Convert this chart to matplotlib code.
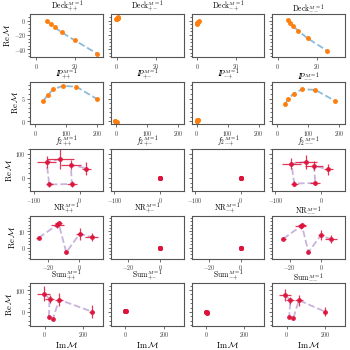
import matplotlib
matplotlib.use("Agg")
import matplotlib.pyplot as plt
from matplotlib.ticker import MultipleLocator, AutoMinorLocator

plt.rcParams['font.family'] = 'serif'
plt.rcParams['font.serif'] = ['cmr10']
plt.rcParams['mathtext.fontset'] = 'cm'
plt.rcParams['axes.formatter.use_mathtext'] = True

# amplitudes : Im and Re parts for each wave and helicity combination
deck_pp_im = [5.7, 7.4, 9.5, 13.1, 19.7, 31.2]
deck_pp_re = [-0.9, -4.7, -9.3, -16.3, -27.4, -46.0]
deck_pm_im = [-0.3, 0.0, 0.3, 0.5, 0.8, 0.9]
deck_pm_re = [2.0, 2.6, 3.2, 3.8, 4.3, 4.8]
deck_mp_im = [0.9, 0.6, 0.3, 0.1, -0.1, -0.3]
deck_mp_re = [-0.3, -1.2, -2.0, -2.8, -3.6, -4.3]
deck_mm_im = [5.2, 6.3, 7.7, 10.3, 15.3, 25.4]
deck_mm_re = [0.5, -2.8, -7.0, -14.0, -24.7, -42.3]

ip_pp_im = [26, 39, 57, 88, 132, 199]
ip_pp_re = [4.5, 5.7, 7.0, 7.8, 7.6, 4.85]
ip_pm_im = [-3, -2, -1, 0, 1, 2]
ip_pm_re = [0.1, 0.0, -0.1, -0.1, -0.2, -0.2]
ip_mp_im = [0, 1, 2, 3, 4, 5]
ip_mp_re = [0.0, 0.05, 0.1, 0.15, 0.2, 0.25]
ip_mm_im = [25, 36, 53, 81, 123, 186]
ip_mm_re = [3.8, 4.9, 6.1, 7.06, 6.9, 4.5]

f2_pp_im = [-42, -72, -66, -17, -19, 15]
f2_pp_re = [77, 65, -28, -26, 54, 38]
f2_pp_im_err = [29, 20, 8, 11, 21, 10]
f2_pp_re_err = [42, 23, 11, 11, 20, 25]
f2_pm_im = [0, 0, 0, 0, 0, 0]
f2_pm_re = [0, 0, 0, 0, 0, 0]
f2_mp_im = [0, 0, 0, 0, 0, 0]
f2_mp_re = [0, 0, 0, 0, 0, 0]
f2_mm_im = [-33.6, -65, -59, -13, -16, 15]
f2_mm_re = [65, 58, -24, -22, 50, 34]
f2_mm_im_err = [24, 20, 8, 11, 20, 10]
f2_mm_re_err = [30, 22, 10, 10, 18, 22]

nr_pp_im = [-25.7, -14.0, -13.2, -8.3, 0.2, 7.7]
nr_pp_re = [6.0, 13.8, 14.8, -2.8, 8.4, 6.4]
nr_pp_im_err = [1.5, 4.0, 2.5, 1.2, 2.3, 4.3]
nr_pp_re_err = [1.0, 2.0, 1.5, 1.2, 3.5, 2.5]
nr_pm_im = [0, 0, 0, 0, 0, 0]
nr_pm_re = [0, 0, 0, 0, 0, 0]
nr_mp_im = [0, 0, 0, 0, 0, 0]
nr_mp_re = [0, 0, 0, 0, 0, 0]
nr_mm_im = [-24.0, -13.0, -12.2, -8.0, -0.2, 6.2]
nr_mm_re = [5.4, 12.8, 13.6, -2.6, 7.4, 5.2]
nr_mm_im_err = [1.5, 3.5, 2.5, 1.2, 2.0, 4.0]
nr_mm_re_err = [1.0, 1.8, 1.5, 1.2, 3.0, 2.2]

sum_pp_im = [-7, 24.6, 21, 42, 74, 244]
sum_pp_re = [83, 60.6, -24, -33, 56, 1.5]
sum_pp_im_err = [35, 24, 6, 5, 22, 14]
sum_pp_re_err = [34, 19, 7, 5, 30, 28]
sum_pm_im = [-3, -2, -1, 0, 1, 2]
sum_pm_re = [2.0, 2.6, 3.1, 3.7, 4.1, 4.6]
sum_mp_im = [1, 2, 2, 3, 4, 5]
sum_mp_re = [-0.3, -1.1, -1.9, -2.6, -3.4, -4.0]
sum_mm_im = [-7, 19.5, 14, 35, 64, 200]
sum_mm_re = [76, 53, -23, -30, 53, 1.5]
sum_mm_im_err = [30, 20, 6, 5, 20, 12]
sum_mm_re_err = [28, 17, 6, 5, 25, 22]

helicities = ['{+}{+}', '{+}{-}', '{-}{+}', '{-}{-}']
wave_names = [r'\mathrm{Deck}', r'I\!\!P', r'f_2{}', r'\mathrm{NR}', r'\mathrm{Sum}']

rows = [
    [(deck_pp_im, deck_pp_re, None, None), (deck_pm_im, deck_pm_re, None, None),
     (deck_mp_im, deck_mp_re, None, None), (deck_mm_im, deck_mm_re, None, None)],
    [(ip_pp_im, ip_pp_re, None, None), (ip_pm_im, ip_pm_re, None, None),
     (ip_mp_im, ip_mp_re, None, None), (ip_mm_im, ip_mm_re, None, None)],
    [(f2_pp_im, f2_pp_re, f2_pp_im_err, f2_pp_re_err), (f2_pm_im, f2_pm_re, None, None),
     (f2_mp_im, f2_mp_re, None, None), (f2_mm_im, f2_mm_re, f2_mm_im_err, f2_mm_re_err)],
    [(nr_pp_im, nr_pp_re, nr_pp_im_err, nr_pp_re_err), (nr_pm_im, nr_pm_re, None, None),
     (nr_mp_im, nr_mp_re, None, None), (nr_mm_im, nr_mm_re, nr_mm_im_err, nr_mm_re_err)],
    [(sum_pp_im, sum_pp_re, sum_pp_im_err, sum_pp_re_err), (sum_pm_im, sum_pm_re, None, None),
     (sum_mp_im, sum_mp_re, None, None), (sum_mm_im, sum_mm_re, sum_mm_im_err, sum_mm_re_err)],
]

xlims = [(-2.9, 34.3), (-16, 218), (-107, 51), (-31, 15), (-75, 303)]
ylims = [(-51, 8.8), (-0.7, 8.75), (-57, 120), (-6.6, 19.2), (-64, 132)]
xsteps = [20, 100, 100, 20, 200]
ysteps = [20, 5, 100, 10, 100]

fig, axes = plt.subplots(5, 4, figsize=(3.5, 3.5), dpi=100, sharex='row', sharey='row')
fig.subplots_adjust(left=0.087, right=0.985, bottom=0.069, top=0.959, wspace=0.11, hspace=0.57)

for r in range(5):
    for c in range(4):
        ax = axes[r, c]
        im, re, im_err, re_err = rows[r][c]
        if r < 2:
            ax.plot(im, re, '--', color='#1f77b4', alpha=0.5, lw=1.3, zorder=1)
            ax.plot(im, re, 'o', color='#ff7f0e', ms=2.5, zorder=2)
        else:
            ax.plot(im, re, '--', color='#9467bd', alpha=0.5, lw=1.3, zorder=1)
            ax.errorbar(im, re, xerr=im_err, yerr=re_err, fmt='o', color='crimson',
                        ms=2.5, elinewidth=0.9, alpha=0.85, zorder=2)
        ax.set_title(r'$%s^{M=1}_{%s}$' % (wave_names[r], helicities[c]), fontsize=5.5, pad=0.5)
        ax.set_xlim(xlims[r])
        ax.set_ylim(ylims[r])
        ax.xaxis.set_major_locator(MultipleLocator(xsteps[r]))
        ax.yaxis.set_major_locator(MultipleLocator(ysteps[r]))
        ax.yaxis.set_minor_locator(AutoMinorLocator())
        ax.tick_params(labelsize=4.2, length=2, width=0.5, pad=1.2, colors='#333333')
        ax.tick_params(which='minor', length=1.2, width=0.4)
        ax.tick_params(axis='x', labelbottom=True)
        for s in ax.spines.values():
            s.set_color('#555555')
            s.set_linewidth(0.8)
        if c == 0:
            ax.set_ylabel(r'$\mathrm{Re}\,\mathcal{M}$', fontsize=6.2, labelpad=1)
        if r == 4:
            ax.set_xlabel(r'$\mathrm{Im}\,\mathcal{M}$', fontsize=6.2, labelpad=0.5)

plt.savefig('out.png', dpi=100)
